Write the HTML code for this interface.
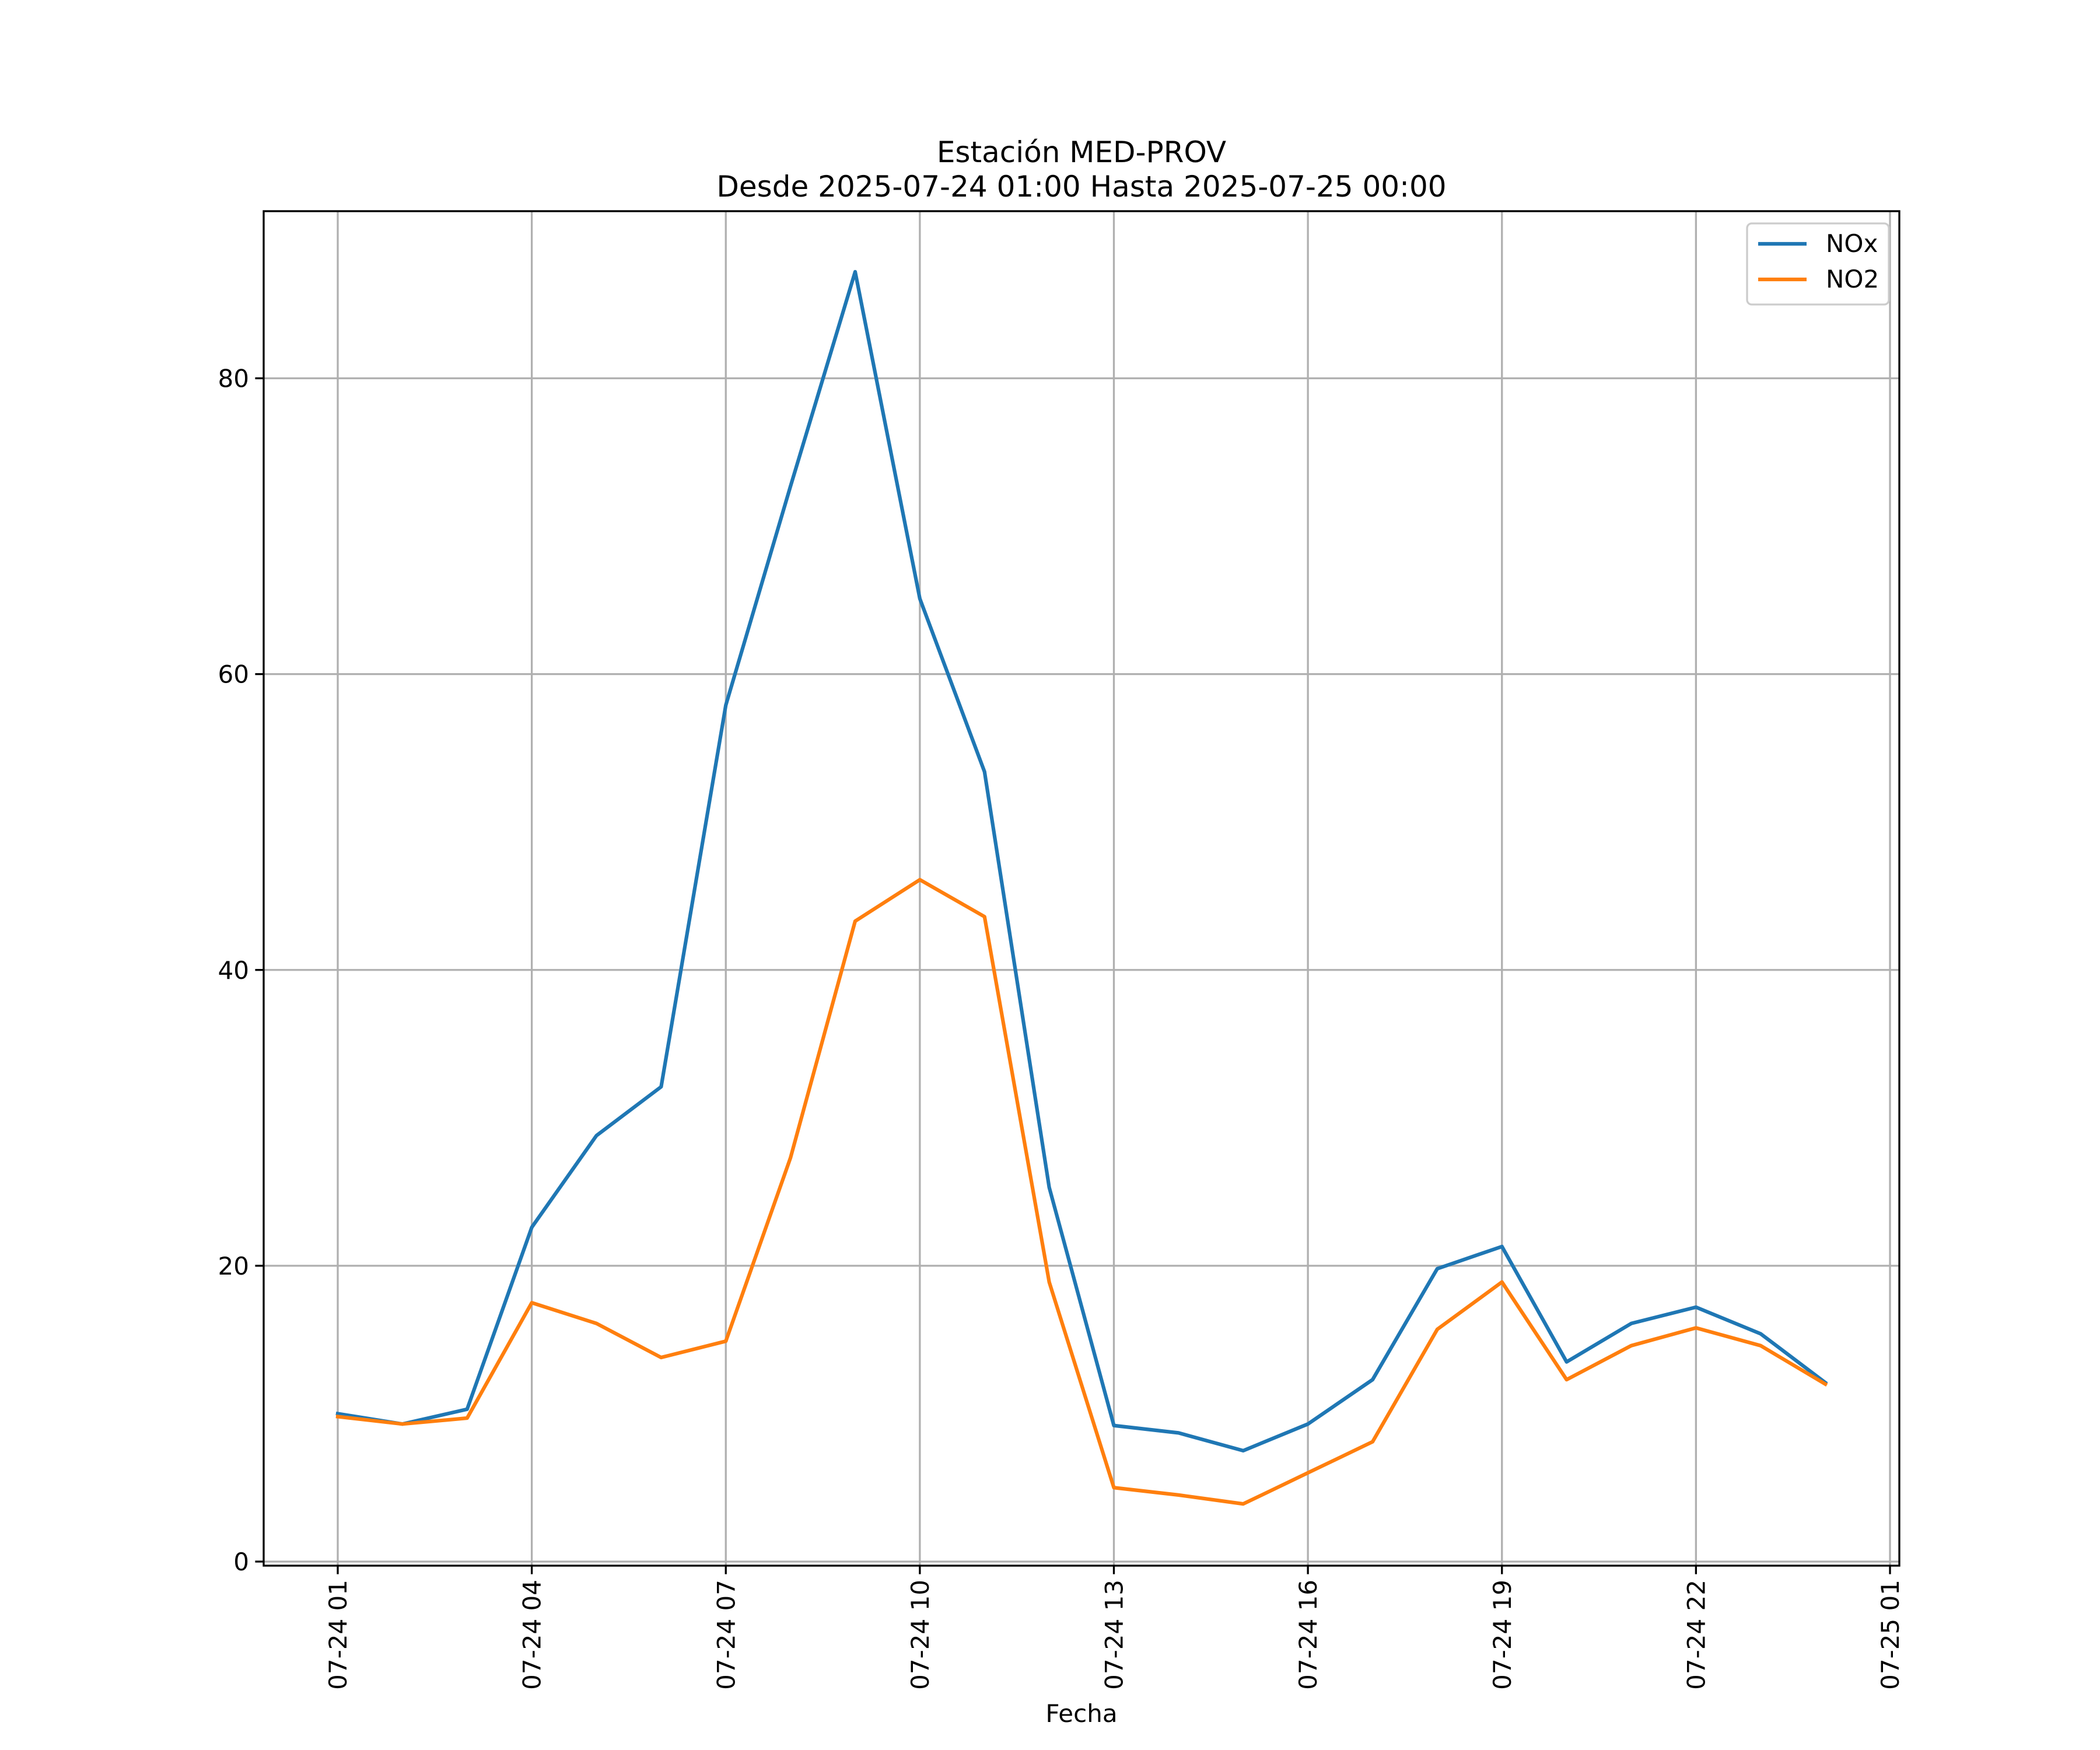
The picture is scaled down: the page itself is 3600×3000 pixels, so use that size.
<!DOCTYPE html>
<html><head><meta charset="utf-8"><style>
html,body{margin:0;padding:0;background:#fff;}
svg{display:block;font-family:"DejaVu Sans","Liberation Sans",sans-serif;}
</style></head><body>
<svg id="chart" width="3600" height="3000" viewBox="0 0 3600 3000" xmlns="http://www.w3.org/2000/svg">
<rect width="3600" height="3000" fill="#fff"/>
<text x="1854" y="278" font-size="50" text-anchor="middle">Estación MED-PROV</text>
<text x="1854" y="337" font-size="50" text-anchor="middle">Desde 2025-07-24 01:00 Hasta 2025-07-25 00:00</text>
<g id="grid"></g>
<g id="series"></g>
<rect x="452" y="362" width="2804" height="2322" fill="none" stroke="#000" stroke-width="3.3"/>
<g id="axes"></g>
<text x="1854" y="2952" font-size="42" text-anchor="middle">Fecha</text>
<g>
<rect x="2995" y="383" width="243" height="139" rx="8" fill="#fff" fill-opacity="0.8" stroke="#ccc" stroke-width="3.3"/>
<g>
<line x1="3014" y1="418" x2="3097" y2="418" stroke="#1f77b4" stroke-width="6.25"/>
<text x="3130" y="432" font-size="42">NOx</text></g>
<g>
<line x1="3014" y1="479" x2="3097" y2="479" stroke="#ff7f0e" stroke-width="6.25"/>
<text x="3130" y="493" font-size="42">NO2</text></g>
</g>
</svg>
<script>
const hours = [1,2,3,4,5,6,7,8,9,10,11,12,13,14,15,16,17,18,19,20,21,22,23,24];
const noxValues = [10,9.3,10.3,22.6,28.8,32.1,57.9,72.7,87.2,65.1,53.4,25.3,9.2,8.7,7.5,9.3,12.3,19.8,21.3,13.5,16.1,17.2,15.4,12.1];
const no2Values = [9.8,9.3,9.7,17.5,16.1,13.8,14.9,27.3,43.3,46.1,43.6,18.9,5.0,4.5,3.9,6.0,8.1,15.7,18.9,12.3,14.6,15.8,14.6,12.0];
const xTickHours = [1,4,7,10,13,16,19,22,25];
const xTickLabels = ["07-24 01","07-24 04","07-24 07","07-24 10","07-24 13","07-24 16","07-24 19","07-24 22","07-25 01"];
const yTicks = [0,20,40,60,80];

const NS="http://www.w3.org/2000/svg";
const L=452,R=3256,T=362,B=2684;
function xs(h){return 579+(h-1)*(3240-579)/24;}
function ys(v){return 2677-v*(2677-648.5)/80;}
function mk(tag,attrs,parent){const e=document.createElementNS(NS,tag);for(const k in attrs)e.setAttribute(k,attrs[k]);parent.appendChild(e);return e;}
const grid=document.getElementById('grid'),axes=document.getElementById('axes'),series=document.getElementById('series');
xTickHours.forEach((h,i)=>{
  const x=xs(h);
  const g=mk('line',{x1:x,x2:x,y1:T,y2:B,stroke:'#b0b0b0','stroke-width':3.3},grid);
  
  
  const t=mk('line',{x1:x,x2:x,y1:B,y2:B+14.6,stroke:'#000','stroke-width':3.3},axes);
  
  
  const lb=mk('text',{x:x+15,y:B+24,'font-size':42,'text-anchor':'end',transform:`rotate(-90 ${x+15} ${B+24})`},axes);
  lb.textContent=xTickLabels[i];
  
  
});
yTicks.forEach(v=>{
  const y=ys(v);
  const g=mk('line',{x1:L,x2:R,y1:y,y2:y,stroke:'#b0b0b0','stroke-width':3.3},grid);
  
  
  const t=mk('line',{x1:L-14.6,x2:L,y1:y,y2:y,stroke:'#000','stroke-width':3.3},axes);
  
  
  const lb=mk('text',{x:L-25,y:y+15,'font-size':42,'text-anchor':'end'},axes);
  lb.textContent=String(v);
  
  
});
function line(vals,color,name){
  const p=mk('polyline',{points:hours.map((h,i)=>xs(h)+','+ys(vals[i])).join(' '),fill:'none',stroke:color,'stroke-width':6.25,'stroke-linejoin':'round','stroke-linecap':'square'},series);
  
  
}
line(noxValues,'#1f77b4','nox-line');
line(no2Values,'#ff7f0e','no2-line');
</script>
</body></html>
